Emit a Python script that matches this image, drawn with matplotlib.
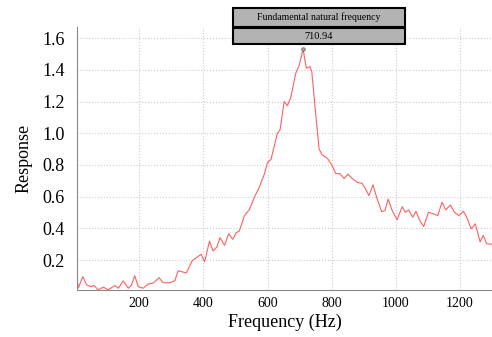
import matplotlib
matplotlib.use("Agg")
import matplotlib.pyplot as plt
from matplotlib.patches import Rectangle

plt.rcParams['font.family'] = ['Liberation Serif', 'DejaVu Serif']

# frequency (Hz) and response
freq = [5, 10, 24, 36, 49, 59, 72, 88, 103, 124, 135, 150, 166, 176, 186, 197,
        212, 228, 243, 262, 274, 295, 311, 321, 347, 365, 393, 404, 419, 430,
        442, 452, 466, 479, 492, 502, 512, 528, 543, 559, 574, 590, 600, 611,
        621, 631, 639, 652, 662, 673, 688, 699, 710.94, 721, 732, 738, 750,
        761, 771, 787, 802, 813, 825, 839, 851, 864, 880, 895, 906, 916, 929,
        942, 956, 966, 976, 989, 1004, 1020, 1030, 1040, 1053, 1063, 1074,
        1087, 1102, 1118, 1131, 1144, 1156, 1170, 1183, 1196, 1211, 1221,
        1235, 1248, 1263, 1273, 1283, 1300]
response = [0.10, 0.025, 0.096, 0.044, 0.033, 0.04, 0.013, 0.03, 0.013, 0.04,
            0.023, 0.069, 0.023, 0.044, 0.102, 0.033, 0.023, 0.05, 0.054, 0.09,
            0.058, 0.058, 0.07, 0.133, 0.12, 0.196, 0.237, 0.19, 0.32, 0.258,
            0.283, 0.342, 0.294, 0.367, 0.331, 0.373, 0.383, 0.481, 0.517,
            0.596, 0.658, 0.742, 0.815, 0.835, 0.919, 1.0, 1.02, 1.2, 1.173,
            1.23, 1.377, 1.43, 1.53, 1.41, 1.42, 1.39, 1.127, 0.90, 0.862,
            0.842, 0.794, 0.746, 0.746, 0.715, 0.742, 0.715, 0.69, 0.685,
            0.648, 0.606, 0.675, 0.585, 0.506, 0.512, 0.585, 0.512, 0.454,
            0.537, 0.502, 0.517, 0.471, 0.508, 0.454, 0.412, 0.502, 0.492,
            0.481, 0.565, 0.517, 0.548, 0.502, 0.481, 0.508, 0.471, 0.398,
            0.429, 0.315, 0.356, 0.304, 0.30]

peak_freq = 710.94
peak_val = 1.53
box_title = "Fundamental natural frequency"

fig = plt.figure(figsize=(4.92, 3.37), dpi=100)
ax = fig.add_axes([0.1565, 0.1395, 0.8435, 0.7805])

ax.plot(freq, response, color='#ff6060', lw=0.8)
ax.plot([peak_freq], [peak_val], 'o', ms=2.5, mfc='#aaaaaa', mec='#666666', mew=0.6)

ax.set_xlim(6, 1300)
ax.set_ylim(0.012, 1.67)
ax.set_xticks([200, 400, 600, 800, 1000, 1200])
ax.set_yticks([0.2, 0.4, 0.6, 0.8, 1.0, 1.2, 1.4, 1.6])
ax.tick_params(axis='x', labelsize=10, length=0, pad=5)
ax.tick_params(axis='y', labelsize=13, length=0, pad=9)
ax.grid(True, color='#cccccc', linestyle=':', lw=0.8)
for s in ['top', 'right']:
    ax.spines[s].set_visible(False)
for s in ['left', 'bottom']:
    ax.spines[s].set_color('#888888')
ax.set_xlabel("Frequency (Hz)", fontsize=13, labelpad=3)
ax.set_ylabel("Response", fontsize=13, labelpad=7)

# annotation boxes
fig.patches.append(Rectangle((0.4736, 0.92), 0.3496, 0.0564, transform=fig.transFigure,
                             facecolor='#b3b3b3', edgecolor='black', lw=1.5))
fig.patches.append(Rectangle((0.4736, 0.8694), 0.3496, 0.0475, transform=fig.transFigure,
                             facecolor='#b3b3b3', edgecolor='black', lw=1.5))
fig.text(0.6484, 0.948, box_title, ha='center', va='center', fontsize=7)
fig.text(0.6484, 0.893, f"{peak_freq:.2f}", ha='center', va='center', fontsize=7.5)

fig.savefig("out.png", dpi=100)
